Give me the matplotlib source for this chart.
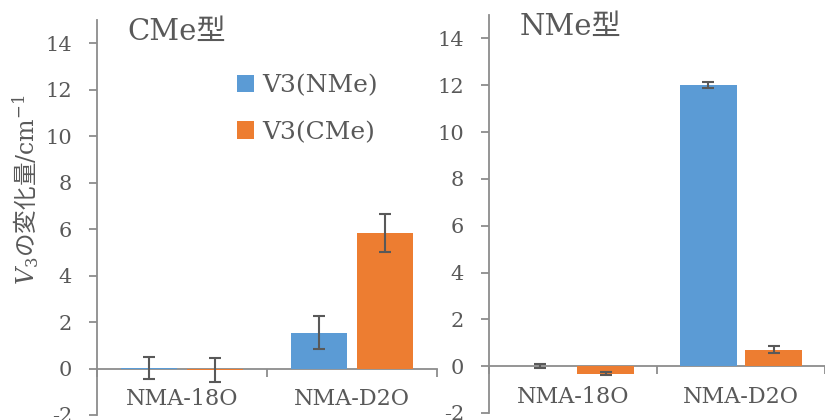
import numpy as np
import matplotlib
matplotlib.use("Agg")
import matplotlib.pyplot as plt

plt.rcParams['font.family'] = ['DejaVu Serif', 'Noto Sans CJK JP']
plt.rcParams['mathtext.fontset'] = 'dejavuserif'
plt.rcParams['axes.unicode_minus'] = False

categories = ["NMA-18O", "NMA-D2O"]
series_names = ["V3(NMe)", "V3(CMe)"]

# CMe型 panel
cme_nme = [0.03, 1.55]
cme_nme_err = [0.48, 0.72]
cme_cme = [-0.05, 5.82]
cme_cme_err = [0.52, 0.82]

# NMe型 panel
nme_nme = [0.02, 12.0]
nme_nme_err = [0.08, 0.12]
nme_cme = [-0.32, 0.7]
nme_cme_err = [0.07, 0.15]

panel_titles = ["CMe型", "NMe型"]

blue = "#5B9BD5"
orange = "#ED7D31"
text_col = "#595959"
axis_col = "#8C8C8C"

W, H = 825, 420
fig = plt.figure(figsize=(W / 100, H / 100), dpi=100)


def px_axes(x0, x1, ytop, ybot):
    return fig.add_axes([x0 / W, (H - ybot) / H, (x1 - x0) / W, (ybot - ytop) / H])


def draw_panel(ax, v1, e1, v2, e2, title, xmax):
    x = np.arange(len(categories))
    w = 0.335
    off = 0.194
    ax.bar(x - off, v1, w, color=blue, label=series_names[0], zorder=2)
    ax.bar(x + off, v2, w, color=orange, label=series_names[1], zorder=2)
    ax.errorbar(x - off, v1, yerr=e1, fmt='none', ecolor=text_col, elinewidth=1.5,
                capsize=4.5, capthick=1.5, zorder=3)
    ax.errorbar(x + off, v2, yerr=e2, fmt='none', ecolor=text_col, elinewidth=1.5,
                capsize=4.5, capthick=1.5, zorder=3)
    ax.set_xlim(-0.5, xmax)
    ax.set_ylim(-2, 15)
    ax.set_yticks(np.arange(-2, 15, 2))
    for s in ['top', 'right']:
        ax.spines[s].set_visible(False)
    ax.spines['left'].set_color(axis_col)
    ax.spines['left'].set_linewidth(1.3)
    ax.spines['bottom'].set_position(('data', 0))
    ax.spines['bottom'].set_color(axis_col)
    ax.spines['bottom'].set_linewidth(1.3)
    ax.spines['bottom'].set_zorder(1)
    ax.set_xticks([-0.5, 0.5, 1.5])
    ax.set_xticklabels([])
    ax.set_xticks(x, minor=True)
    ax.set_xticklabels(categories, minor=True)
    ax.tick_params(axis='x', which='major', direction='out', length=6, width=1.3, color=axis_col)
    ax.tick_params(axis='x', which='minor', length=0, pad=14, labelsize=16, labelcolor=text_col)
    ax.tick_params(axis='y', direction='out', length=6, width=1.3, color=axis_col,
                   labelsize=15, labelcolor=text_col, pad=12)
    ax.text(0.09, 0.97, title, transform=ax.transAxes, fontsize=21, color=text_col,
            ha='left', va='center')
    ax.patch.set_alpha(0)


ax1 = px_axes(97, 437, 20, 415)
draw_panel(ax1, cme_nme, cme_nme_err, cme_cme, cme_cme_err, panel_titles[0], 1.5)
ax1.set_ylabel(r"$V_3$の変化量$\mathrm{/cm}^{-1}$", fontsize=17, color=text_col,
               family=['Noto Sans CJK JP'])
ax1.yaxis.set_label_coords(-0.165, 0.57)
ax1.legend(loc='upper left', bbox_to_anchor=(0.345, 0.92), frameon=False,
           handlelength=0.7, handleheight=0.7, handletextpad=0.3,
           labelspacing=0.95, fontsize=18, labelcolor=text_col)

ax2 = px_axes(489, 825, 15, 413)
draw_panel(ax2, nme_nme, nme_nme_err, nme_cme, nme_cme_err, panel_titles[1], 1.465)

fig.savefig("out.png", dpi=100)
